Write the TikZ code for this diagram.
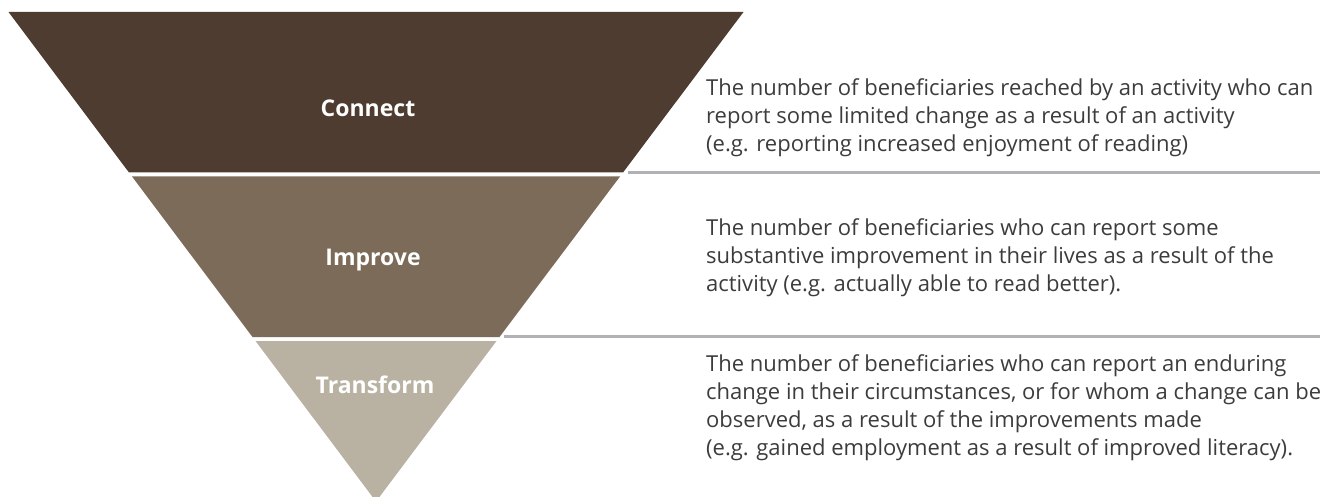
\documentclass[tikz,border=0pt]{standalone}
\usepackage{fontspec}
\setmainfont{Open Sans}
\usetikzlibrary{positioning}
\definecolor{connectbrown}{HTML}{4E3C30}
\definecolor{improvebrown}{HTML}{7B6B58}
\definecolor{transformgrey}{HTML}{B9B1A1}
\definecolor{rulegrey}{HTML}{B1B1B6}
\definecolor{textgrey}{HTML}{3C3C3C}

\begin{document}
\begin{tikzpicture}[x=1pt,y=-1pt,
    bandlabel/.style={anchor=base,text=white,font=\bfseries\fontsize{23}{28}\selectfont},
    desc/.style={anchor=north west,inner sep=0pt,align=left,text=textgrey,font=\fontsize{22}{28}\selectfont},
    rule/.style={draw=rulegrey,line width=2.6pt}]
            \useasboundingbox (0,0) rectangle (1341,497);

            \def\connectband{(8.5,12) -- (743.5,12) -- (623,172.5) -- (129,172.5) -- cycle}
            \def\improveband{(132,176.5) -- (620,176.5) -- (499.5,337) -- (252.5,337) -- cycle}
            \def\transformband{(255.5,341) -- (496.5,341) -- (376,501.5) -- cycle}

            \fill[connectbrown] \connectband;
            \fill[improvebrown] \improveband;
            \fill[transformgrey] \transformband;

            \node[bandlabel] (connect) at (368,117) {Connect};
            \node[bandlabel] (improve) at (373,265) {Improve};
            \node[bandlabel] (transform) at (375,393) {Transform};

            \coordinate (ruleA) at (628,172.5);
            \coordinate (ruleAend) at (1320,172.5);
            \coordinate (ruleB) at (504,336.5);
            \coordinate (ruleBend) at (1320,336.5);
            \draw[rule] (ruleA) -- (ruleAend);
            \draw[rule] (ruleB) -- (ruleBend);

            \node[desc] (connecttext) at (706,78.3) {The number of beneficiaries reached by an activity who can\\report some limited change as a result of an activity\\(e.g. reporting increased enjoyment of reading)};
            \node[desc] (improvetext) at (706,218.3) {The number of beneficiaries who can report some\\substantive improvement in their lives as a result of the\\activity (e.g. actually able to read better).};
            \node[desc] (transformtext) at (706,354.3) {The number of beneficiaries who can report an enduring\\change in their circumstances, or for whom a change can be\\observed, as a result of the improvements made\\(e.g. gained employment as a result of improved literacy).};
        \end{tikzpicture}
\end{document}
